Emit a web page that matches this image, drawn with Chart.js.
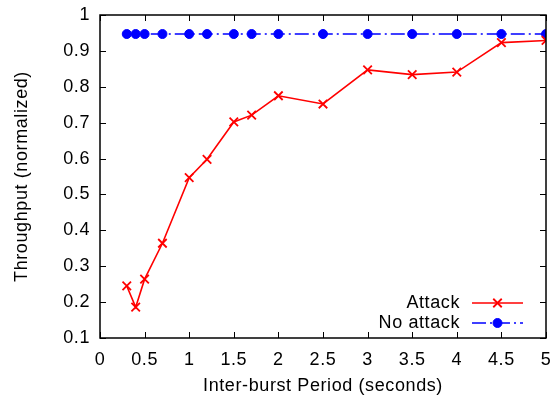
<!DOCTYPE html>
<html>
<head>
<meta charset="utf-8">
<script src="https://cdn.jsdelivr.net/npm/chart.js@4/dist/chart.umd.min.js"></script>
<style>
html, body { margin: 0; padding: 0; background: #fff; }
</style>
</head>
<body>
<canvas id="chart" width="555" height="398"></canvas>
<script>
// Chart data
const periods = [0.3, 0.4, 0.5, 0.7, 1, 1.2, 1.5, 1.7, 2, 2.5, 3, 3.5, 4, 4.5, 5];
const attack = [0.245, 0.186, 0.264, 0.364, 0.547, 0.598, 0.702, 0.721, 0.775, 0.752, 0.847, 0.834, 0.841, 0.923, 0.929];
const noAttack = [0.947, 0.947, 0.947, 0.947, 0.947, 0.947, 0.947, 0.947, 0.947, 0.947, 0.947, 0.947, 0.947, 0.947, 0.947];
const seriesNames = ["Attack", "No attack"];
const xTitle = "Inter-burst Period (seconds)";
const yTitle = "Throughput (normalized)";

const FONT = "'Liberation Sans', Arial, sans-serif";
const FSIZE = 18;

function toPoints(ys) {
    return periods.map((x, i) => ({ x: x, y: ys[i] }));
}

function fmt(v) {
    return String(+v.toFixed(2));
}

// gnuplot text is a little wider than Arial
const spacingPlugin = {
    id: "spacing",
    beforeDraw(chart) {
        chart.ctx.letterSpacing = "0.6px";
    }
};

// frame, inward ticks on all sides, and the legend (gnuplot style)
const framePlugin = {
    id: "frame",
    afterDatasetsDraw(chart) {
        const ctx = chart.ctx;
        const a = chart.chartArea;
        const xs = chart.scales.x, ys = chart.scales.y;
        const tl = 6;
        ctx.save();
        ctx.strokeStyle = "#000";
        ctx.lineWidth = 1;
        ctx.beginPath();
        xs.ticks.forEach(t => {
            let px = Math.round(xs.getPixelForValue(t.value)) + 0.5;
            ctx.moveTo(px, a.bottom); ctx.lineTo(px, a.bottom - tl);
            ctx.moveTo(px, a.top); ctx.lineTo(px, a.top + tl);
        });
        ys.ticks.forEach(t => {
            let py = Math.round(ys.getPixelForValue(t.value)) + 0.5;
            ctx.moveTo(a.left, py); ctx.lineTo(a.left + tl, py);
            ctx.moveTo(a.right, py); ctx.lineTo(a.right - tl, py);
        });
        ctx.stroke();
        ctx.lineWidth = 1.5;
        ctx.strokeRect(a.left, a.top, a.right - a.left, a.bottom - a.top);

        // legend
        ctx.font = FSIZE + "px " + FONT;
        ctx.textAlign = "right";
        ctx.textBaseline = "middle";
        const textRight = a.right - 86;
        const lx0 = a.right - 74, lx1 = a.right - 23;
        chart.data.datasets.forEach((ds, i) => {
            const y = a.bottom - 35 + i * 20;
            ctx.fillStyle = "#000";
            ctx.fillText(ds.label, textRight, y);
            ctx.strokeStyle = ds.borderColor;
            ctx.lineWidth = ds.borderWidth;
            ctx.setLineDash(ds.borderDash || []);
            ctx.beginPath();
            ctx.moveTo(lx0, y); ctx.lineTo(lx1, y);
            ctx.stroke();
            ctx.setLineDash([]);
            ctx.fillStyle = ds.pointBackgroundColor;
            ctx.lineWidth = ds.pointBorderWidth;
            Chart.helpers.drawPoint(ctx, {
                pointStyle: ds.pointStyle,
                radius: ds.pointRadius,
                borderWidth: ds.pointBorderWidth,
                rotation: 0
            }, (lx0 + lx1) / 2, y);
        });
        ctx.restore();
    }
};

const ctx = document.getElementById("chart").getContext("2d");
new Chart(ctx, {
    type: "line",
    data: {
        datasets: [{
            label: seriesNames[0],
            data: toPoints(attack),
            borderColor: "#ff0000",
            backgroundColor: "#ff0000",
            pointBackgroundColor: "#ff0000",
            borderWidth: 1.6,
            pointStyle: "crossRot",
            pointRadius: 6,
            pointBorderWidth: 1.8,
            tension: 0
        }, {
            label: seriesNames[1],
            data: toPoints(noAttack),
            borderColor: "#0000ff",
            backgroundColor: "#0000ff",
            pointBackgroundColor: "#0000ff",
            borderWidth: 1.6,
            borderDash: [14, 4, 2, 4],
            pointStyle: "circle",
            pointRadius: 4.5,
            pointBorderWidth: 1,
            tension: 0
        }]
    },
    options: {
        responsive: false,
        animation: false,
        devicePixelRatio: 1,
        layout: { padding: { top: 15, right: 9, left: 0, bottom: 0 } },
        plugins: {
            legend: { display: false },
            tooltip: { enabled: false }
        },
        scales: {
            x: {
                type: "linear",
                min: 0, max: 5,
                grid: { display: false, drawTicks: false },
                border: { display: false },
                ticks: {
                    stepSize: 0.5,
                    padding: 11,
                    color: "#000",
                    font: { family: FONT, size: FSIZE },
                    maxRotation: 0,
                    autoSkip: false,
                    callback: v => fmt(v)
                },
                title: {
                    display: true,
                    text: xTitle,
                    color: "#000",
                    font: { family: FONT, size: FSIZE },
                    padding: { top: 0, bottom: 1 }
                },
                afterFit: s => {
                    s.height = 60;
                    s.paddingLeft = 0;
                    s.paddingRight = 0;
                }
            },
            y: {
                min: 0.1, max: 1,
                grid: { display: false, drawTicks: false },
                border: { display: false },
                ticks: {
                    stepSize: 0.1,
                    padding: 10,
                    color: "#000",
                    font: { family: FONT, size: FSIZE },
                    autoSkip: false,
                    callback: v => fmt(v)
                },
                title: {
                    display: true,
                    text: yTitle,
                    color: "#000",
                    font: { family: FONT, size: FSIZE },
                    padding: { top: 11, bottom: 0 }
                },
                afterFit: s => {
                    s.width = 100;
                    s.paddingTop = 0;
                    s.paddingBottom = 0;
                }
            }
        }
    },
    plugins: [spacingPlugin, framePlugin]
});
</script>
</body>
</html>
